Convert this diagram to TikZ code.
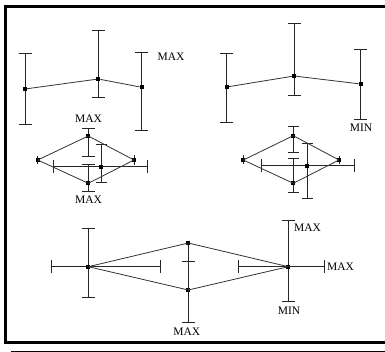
\documentclass[tikz,border=0pt]{standalone}
\usepackage{fontspec}
\setmainfont{Liberation Serif}
\usetikzlibrary{arrows.meta}
\tikzset{
  pt/.style={rectangle,fill=black,minimum size=4pt,inner sep=0pt},
  edge/.style={draw=black!80,line width=0.8pt},
  ebar/.style={draw=black!85,line width=0.9pt,{Bar[width=13pt]}-{Bar[width=13pt]}},
  ebarS/.style={draw=black!85,line width=0.9pt,{Bar[width=11pt]}-{Bar[width=11pt]}},
  tick/.style={draw=black!85,line width=0.9pt,{Bar[width=1pt]}-{Bar[width=1pt]}},
  lbl/.style={inner sep=0pt,font=\fontsize{11.5}{12}\selectfont},
  frame/.style={draw=black,line width=3pt}
}
\begin{document}
\begin{tikzpicture}[x=1pt,y=-1pt]
\useasboundingbox (0,0) rectangle (385,352);
\fill[white] (0,0) rectangle (385,352);
\begin{scope}
\clip (0,0) rectangle (385,352);
\draw[frame] (5.5,6.5) rectangle (395,342.8);
\draw[line width=1.2pt] (11,351.2) -- (385,351.2);
\end{scope}

% ---- upper left
\coordinate (a1t) at (25,53.3); \coordinate (a1b) at (25,125);
\coordinate (a2t) at (98.3,30); \coordinate (a2b) at (98.3,97.7);
\coordinate (a3t) at (141.7,52.3); \coordinate (a3b) at (141.7,130.7);
\draw[ebar] (a1t) -- (a1b);
\draw[ebar] (a2t) -- (a2b);
\draw[ebar] (a3t) -- (a3b);
\node[pt] (a1) at (25,89) {};
\node[pt] (a2) at (98.3,79) {};
\node[pt] (a3) at (141.7,87.3) {};
\draw[edge] (a1) -- (a2) -- (a3);
\node[lbl] (la) at (171,57) {MAX};

% ---- upper right
\coordinate (b1t) at (226.7,52.7); \coordinate (b1b) at (226.7,123);
\coordinate (b2t) at (294,23); \coordinate (b2b) at (294,96);
\coordinate (b3t) at (360.7,49); \coordinate (b3b) at (360.7,119.5);
\draw[ebar] (b1t) -- (b1b);
\draw[ebar] (b2t) -- (b2b);
\draw[ebar] (b3t) -- (b3b);
\node[pt] (b1) at (226.7,87) {};
\node[pt] (b2) at (294,76) {};
\node[pt] (b3) at (360.7,84) {};
\draw[edge] (b1) -- (b2) -- (b3);
\node[lbl] (lb) at (361,128) {MIN};

% ---- middle left diamond
\coordinate (c1t) at (88.3,127.7); \coordinate (c1b) at (88.3,157.3);
\coordinate (c4t) at (88.3,164); \coordinate (c4b) at (88.3,191.7);
\coordinate (c5t) at (101,144); \coordinate (c5b) at (101,183.3);
\coordinate (c5l) at (53.3,166.7); \coordinate (c5r) at (148.3,166.7);
\coordinate (c2t) at (37.7,156); \coordinate (c2b) at (37.7,164);
\coordinate (c3t) at (134,155.5); \coordinate (c3b) at (134,164.5);
\draw[ebar] (c1t) -- (c1b);
\draw[ebar] (c4t) -- (c4b);
\draw[ebarS] (c5t) -- (c5b);
\draw[ebar] (c5l) -- (c5r);
\draw[tick] (c2t) -- (c2b);
\draw[tick] (c3t) -- (c3b);
\node[pt] (c1) at (88.3,136) {};
\node[pt] (c2) at (37.7,160) {};
\node[pt] (c3) at (134,160) {};
\node[pt] (c4) at (88.3,183.3) {};
\node[pt] (c5) at (101,166.7) {};
\draw[edge] (c2.center) -- (c1.center) -- (c3.center) -- (c4.center) -- cycle;
\node[lbl] (lc1) at (88.5,118.3) {MAX};
\node[lbl] (lc2) at (88.5,199.5) {MAX};

% ---- middle right diamond
\coordinate (d1t) at (293.3,125.7); \coordinate (d1b) at (293.3,153.3);
\coordinate (d4t) at (293.3,157.7); \coordinate (d4b) at (293.3,192.7);
\coordinate (d5t) at (307.3,143); \coordinate (d5b) at (307.3,199.3);
\coordinate (d5l) at (261,165.7); \coordinate (d5r) at (355,165.7);
\coordinate (d2t) at (243.3,155.5); \coordinate (d2b) at (243.3,164);
\coordinate (d3t) at (339,156); \coordinate (d3b) at (339,164);
\draw[ebarS] (d1t) -- (d1b);
\draw[ebarS] (d4t) -- (d4b);
\draw[ebarS] (d5t) -- (d5b);
\draw[ebar] (d5l) -- (d5r);
\draw[tick] (d2t) -- (d2b);
\draw[tick] (d3t) -- (d3b);
\node[pt] (d1) at (293.3,135.7) {};
\node[pt] (d2) at (243.3,160) {};
\node[pt] (d3) at (339,160) {};
\node[pt] (d4) at (293.3,183.3) {};
\node[pt] (d5) at (307.3,165.7) {};
\draw[edge] (d2.center) -- (d1.center) -- (d3.center) -- (d4.center) -- cycle;

% ---- bottom panel
\coordinate (e1t) at (88.3,228.3); \coordinate (e1b) at (88.3,298.3);
\coordinate (e1l) at (50.7,266.7); \coordinate (e1r) at (161,266.7);
\coordinate (e2c) at (188.3,261.3); \coordinate (e3b) at (188.3,322.7);
\coordinate (e4t) at (288.3,220); \coordinate (e4b) at (288.3,301.7);
\coordinate (e4l) at (237.7,266.7); \coordinate (e4r) at (325,266.7);
\draw[ebar] (e1t) -- (e1b);
\draw[ebar] (e1l) -- (e1r);
\draw[ebar] (e4t) -- (e4b);
\draw[ebar] (e4l) -- (e4r);
\node[pt] (e1) at (88.3,266.7) {};
\node[pt] (e2) at (188.3,243) {};
\node[pt] (e3) at (188.3,290) {};
\node[pt] (e4) at (288.3,266.7) {};
\draw[ebar,{Bar[width=0pt]}-{Bar[width=13pt]}] (e2.center) -- (e3b);
\draw[draw=black!85,line width=0.9pt] ([xshift=-6.5pt]e2c) -- ([xshift=6.5pt]e2c);
\draw[edge] (e1.center) -- (e2.center) -- (e4.center) -- (e3.center) -- cycle;
\node[lbl,anchor=west] (le1) at (294,227.7) {MAX};
\node[lbl,anchor=west] (le2) at (327,266.7) {MAX};
\node[lbl] (le3) at (289,310.7) {MIN};
\node[lbl] (le4) at (186.7,331.7) {MAX};
\end{tikzpicture}
\end{document}
